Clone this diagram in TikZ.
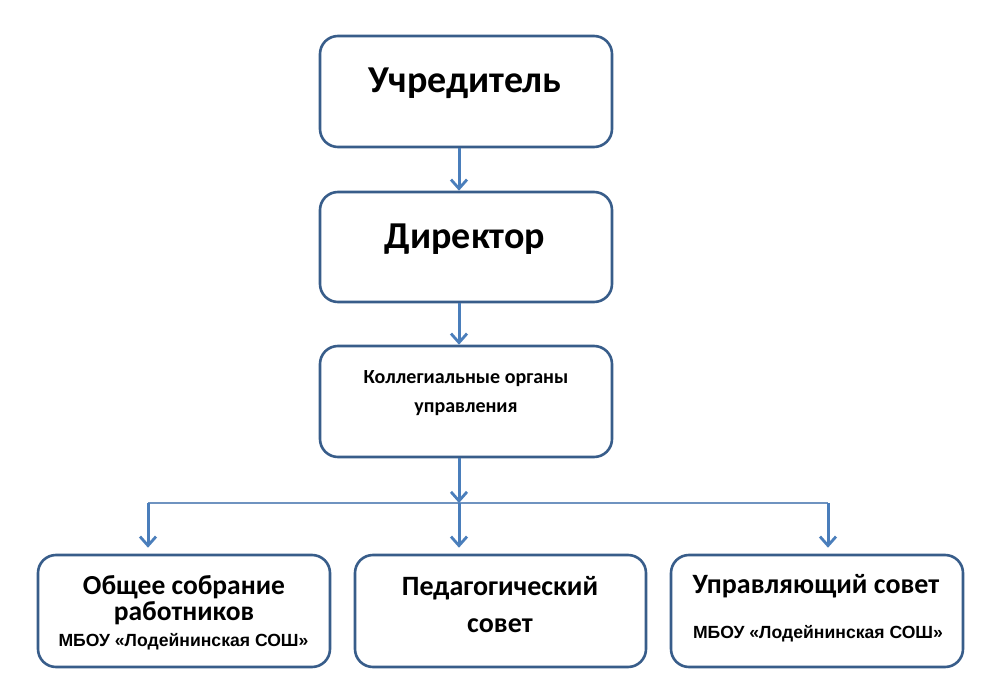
\documentclass[tikz,border=0pt]{standalone}
\usepackage{fontspec}
\setmainfont{Carlito}
\newfontfamily\arialb{Liberation Sans}[BoldFont={* Bold}]
\usetikzlibrary{arrows.meta}
\definecolor{boxline}{HTML}{385D8A}
\definecolor{arrowline}{HTML}{4A7EBB}
\definecolor{thinline}{HTML}{6F93C0}
\tikzset{
  orgbox/.style={draw=boxline, line width=2.6pt, rounded corners=18pt, fill=white, inner sep=0pt},
  conn/.style={draw=arrowline, line width=3pt, -{Straight Barb[length=9pt,width=16pt,line width=2.8pt]}},
  busline/.style={draw=thinline, line width=1.3pt},
  bigtxt/.style={anchor=base, inner sep=0pt, font=\fontsize{38}{42}\selectfont\bfseries},
  midtxt/.style={anchor=base, inner sep=0pt, font=\fontsize{20}{24}\selectfont\bfseries},
  subtxt/.style={anchor=base, inner sep=0pt, font=\fontsize{28}{30}\selectfont\bfseries},
  orgtxt/.style={anchor=base, inner sep=0pt, font=\arialb\fontsize{17.6}{20}\selectfont\bfseries}
}
\begin{document}
\begin{tikzpicture}[x=1pt,y=-1pt]
\useasboundingbox (0,0) rectangle (993,687);
% boxes
\node[orgbox, minimum width=292pt, minimum height=111pt] (b1) at (466,91.5) {};
\node[orgbox, minimum width=292pt, minimum height=110pt] (b2) at (466,247) {};
\node[orgbox, minimum width=292pt, minimum height=111pt] (b3) at (466,401.5) {};
\node[orgbox, minimum width=292pt, minimum height=112pt] (b4) at (184,611) {};
\node[orgbox, minimum width=291pt, minimum height=112pt] (b5) at (500.5,611) {};
\node[orgbox, minimum width=292pt, minimum height=112pt] (b6) at (817,611) {};
% texts
\node[bigtxt] (t1) at (465,93) {Учредитель};
\node[bigtxt] (t2) at (465,248) {Директор};
\node[midtxt] (t3a) at (466,383) {Коллегиальные органы};
\node[midtxt] (t3b) at (466,412) {управления};
\node[subtxt, font=\fontsize{27.5}{30}\selectfont\bfseries] (t4a) at (184,594) {Общее собрание};
\node[subtxt, font=\fontsize{27.5}{30}\selectfont\bfseries] (t4b) at (184,620) {работников};
\node[orgtxt] (t4c) at (183.5,646) {МБОУ «Лодейнинская СОШ»};
\node[subtxt] (t5a) at (500,595) {Педагогический};
\node[subtxt] (t5b) at (500,632) {совет};
\node[subtxt] (t6a) at (816,593) {Управляющий совет};
\node[orgtxt] (t6b) at (818,638) {МБОУ «Лодейнинская СОШ»};
% connectors
\coordinate (busL) at (148,503);
\coordinate (busM) at (459,503);
\coordinate (busR) at (828,503);
\draw[busline] (busL) -- (busR);
\draw[conn] (b1.south -| busM) -- (b2.north -| busM);
\draw[conn] (b2.south -| busM) -- (b3.north -| busM);
\draw[conn] (b3.south -| busM) -- (busM);
\draw[conn] (busL) -- ([yshift=6pt]b4.north -| busL);
\draw[conn] (busM) -- ([yshift=6pt]b5.north -| busM);
\draw[conn] (busR) -- ([yshift=6pt]b6.north -| busR);
\end{tikzpicture}
\end{document}
